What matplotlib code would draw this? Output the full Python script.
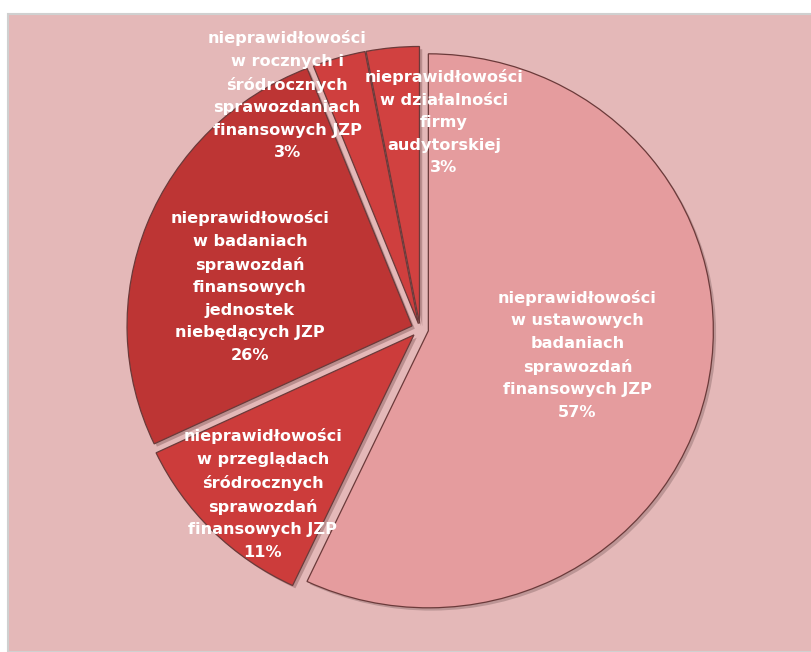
import matplotlib.pyplot as plt
import matplotlib.patheffects as pe
from matplotlib.patches import Rectangle
import numpy as np

# data
labels = [
    "nieprawidłowości\nw ustawowych\nbadaniach\nsprawozdań\nfinansowych JZP",
    "nieprawidłowości\nw przeglądach\nśródrocznych\nsprawozdań\nfinansowych JZP",
    "nieprawidłowości\nw badaniach\nsprawozdań\nfinansowych\njednostek\nniebędących JZP",
    "nieprawidłowości\nw rocznych i\nśródrocznych\nsprawozdaniach\nfinansowych JZP",
    "nieprawidłowości\nw działalności\nfirmy\naudytorskiej",
]
shares = [57, 11, 26, 3, 3]

colors = ["#e59c9e", "#cc3c3b", "#bd3534", "#cf3f3e", "#d14140"]
explode = [0.03, 0.03, 0.03, 0.02, 0.02]
# label placement: (radius, angle in degrees)
label_pos = [(0.56, -9.3), (0.80, -133.6), (0.615, 166), (0.944, 119.6), (0.73, 83.4)]

fig = plt.figure(figsize=(8.11, 6.52), dpi=100)
fig.patch.set_facecolor("white")
fig.patches.append(Rectangle((8 / 811, 0), 1, 1 - 14 / 652, transform=fig.transFigure,
                             facecolor="#e4b8b8", edgecolor="#d0d0d0", linewidth=1.5,
                             zorder=-10))

# pie is drawn slightly squashed vertically, as in the original
Rx, Ry = 285, 277
half = 300
cx, cy = 420, 329
ax = fig.add_axes([(cx - half) / 811, (652 - cy - half) / 652, 2 * half / 811, 2 * half / 652])

wedges, _ = ax.pie(shares, colors=colors, explode=explode, startangle=90,
                   counterclock=False, radius=1,
                   wedgeprops=dict(edgecolor="#6b3a3a", linewidth=0.9))
for w in wedges:
    w.set_path_effects([pe.SimplePatchShadow(offset=(2, -2), alpha=0.25), pe.Normal()])
ax.set_aspect("auto")
ax.set_xlim(-half / Rx, half / Rx)
ax.set_ylim(-half / Ry, half / Ry)
ax.axis("off")

for lab, s, (r, a) in zip(labels, shares, label_pos):
    t = np.radians(a)
    ax.text(r * np.cos(t), r * np.sin(t) * Rx / Ry, lab + "\n" + str(s) + "%",
            ha="center", va="center", color="white", fontsize=11.6,
            fontweight="bold", family="DejaVu Sans", linespacing=1.62)

fig.savefig("out.png", dpi=100, facecolor=fig.get_facecolor())
